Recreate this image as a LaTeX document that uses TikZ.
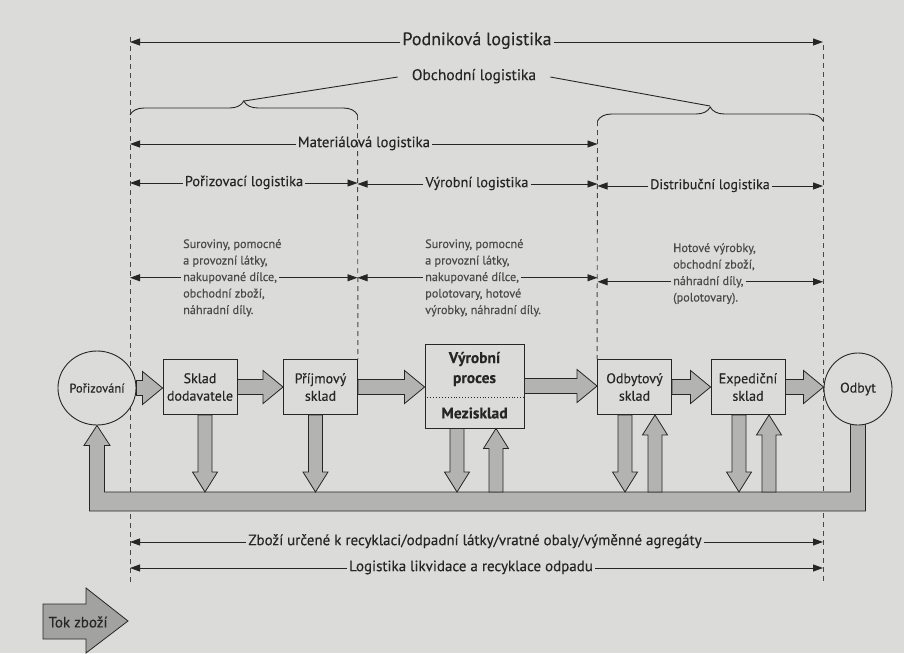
\documentclass[tikz,border=0pt]{standalone}
\usepackage{fontspec}
\setmainfont{PT Sans}[FakeBold=0.25]
\newfontfamily\labelfont{PT Sans}[FakeBold=0.3]
\usetikzlibrary{arrows.meta,calc,decorations.pathreplacing,shapes.geometric}

\definecolor{page}{HTML}{DBDBD9}
\definecolor{ink}{HTML}{262626}
\definecolor{softink}{HTML}{4A4A4A}
\definecolor{flow}{HTML}{B3B3B1}
\definecolor{tokfill}{HTML}{A2A2A0}

\pgfdeclarelayer{paper}
\pgfdeclarelayer{guides}
\pgfdeclarelayer{flows}
\pgfsetlayers{paper,guides,flows,main}

\tikzset{
  guide/.style={draw=ink!85, line width=0.9pt, dash pattern=on 5pt off 4pt},
  span/.style={draw=ink, line width=0.9pt, -{Triangle[length=10pt,width=7pt]}},
  lbl/.style={text=ink, inner xsep=2pt, inner ysep=1pt, text height=1.6ex, text depth=0.35ex},
  note/.style={text=softink, font=\fontsize{12.2}{14}\selectfont, inner xsep=2pt, inner ysep=0pt,
               anchor=base west, text height=1.6ex, text depth=0.3ex},
  store/.style={draw=ink, line width=0.9pt, fill=page, minimum width=74pt, minimum height=55pt,
                inner sep=0pt, align=center, text=ink, font=\labelfont\fontsize{14}{17.5}\selectfont},
  terminal/.style={ellipse, draw=ink, line width=0.9pt, fill=page, inner sep=0pt,
                   text=ink, font=\labelfont\fontsize{12.5}{15}\selectfont},
  boldlbl/.style={text=ink, align=center, inner sep=0pt, font=\bfseries\fontsize{15.5}{20}\selectfont},
  blockarrow/.style={draw=ink, line width=0.8pt, fill=flow, line join=miter},
  bracket/.style={draw=ink, line width=0.9pt, decorate, decoration={brace, amplitude=14pt}},
}

% wide block arrow pointing right, from anchor #1 to anchor #2
\newcommand\flowright[2]{%
  \path[blockarrow] let \p1=(#1), \p2=(#2) in
    (\x1,\y1+7.5pt) -- (\x2-20pt,\y1+7.5pt) -- (\x2-20pt,\y1+16.5pt) -- (\x2,\y1)
    -- (\x2-20pt,\y1-16.5pt) -- (\x2-20pt,\y1-7.5pt) -- (\x1,\y1-7.5pt) -- cycle;}
% block arrow from the lower side of node #1 (shifted by #2) down into the return channel
\newcommand\flowdown[2]{%
  \path[blockarrow] let \p1=($(#1.south)+(#2,0)$), \p2=(chantop) in
    (\x1-7pt,\y1) -- (\x1+7pt,\y1) -- (\x1+7pt,\y2+20pt) -- (\x1+12.5pt,\y2+20pt)
    -- (\x1,\y2) -- (\x1-12.5pt,\y2+20pt) -- (\x1-7pt,\y2+20pt) -- cycle;}
% block arrow from the return channel up into the lower side of node #1 (shifted by #2)
\newcommand\flowup[2]{%
  \path[blockarrow] let \p1=($(#1.south)+(#2,0)$), \p2=(chantop) in
    (\x1-7pt,\y2) -- (\x1-7pt,\y1-20pt) -- (\x1-12.5pt,\y1-20pt) -- (\x1,\y1)
    -- (\x1+12.5pt,\y1-20pt) -- (\x1+7pt,\y1-20pt) -- (\x1+7pt,\y2) -- cycle;}

\begin{document}
\begin{tikzpicture}[x=1pt,y=-1pt]
\begin{pgfonlayer}{paper}
  \fill[page] (0,0) rectangle (904,653);
\end{pgfonlayer}
\useasboundingbox (0,0) rectangle (904,653);

% section boundaries
\coordinate (gL) at (130,0);
\coordinate (gM1) at (357.5,0);
\coordinate (gM2) at (597.5,0);
\coordinate (gR) at (823,0);
\coordinate (chantop) at (0,492);
\coordinate (chanbot) at (0,511);
\coordinate (vpdiv) at (0,397);
\coordinate (bL) at (244,101);
\coordinate (bR) at (710,106);

% ---------- flow of goods ----------
\node[terminal, minimum width=60pt, minimum height=74pt] (por) at (97,388) {Pořizování};
\node[store] (sd) at (200,387) {Sklad\\dodavatele};
\node[store] (ps) at (320.5,387) {Příjmový\\sklad};
\node[store, minimum width=99pt, minimum height=84pt] (vp) at (474.5,386) {};
\node[boldlbl] (vpt) at (474.5,369) {Výrobní\\proces};
\node[boldlbl] (vpb) at (474.5,413) {Mezisklad};
\draw[ink, dotted, line width=0.9pt] (vp.west |- vpdiv) -- (vp.east |- vpdiv);
\node[store] (od) at (634.5,387) {Odbytový\\sklad};
\node[store] (ex) at (748,387) {Expediční\\sklad};
\node[terminal, minimum width=68pt, minimum height=72pt, font=\labelfont\fontsize{14}{16}\selectfont] (odb) at (858,389) {Odbyt};

\begin{pgfonlayer}{flows}
  % return channel from Odbyt back to Pořizování
  \path[blockarrow] let \p1=(por.south), \p2=(odb.south), \p3=(chantop), \p4=(chanbot) in
    (\x2-7.5pt,\y2+4pt) -- (\x2-7.5pt,\y3) -- (\x1+7.5pt,\y3) -- (\x1+7.5pt,\y1-20pt)
    -- (\x1+13pt,\y1-20pt) -- (\x1,\y1) -- (\x1-13pt,\y1-20pt) -- (\x1-7.5pt,\y1-20pt)
    -- (\x1-7.5pt,\y4) -- (\x2+7.5pt,\y4) -- (\x2+7.5pt,\y2+4pt);
  \flowdown{sd}{5}
  \flowdown{ps}{-5}
  \flowdown{vp}{-17.5}
  \flowup{vp}{21.5}
  \flowdown{od}{-9.5}
  \flowup{od}{20.5}
  \flowdown{ex}{-9}
  \flowup{ex}{21}
  \flowright{por.east}{sd.west}
  \flowright{sd.east}{ps.west}
  \flowright{ps.east}{vp.west}
  \flowright{vp.east}{od.west}
  \flowright{od.east}{ex.west}
  \flowright{ex.east}{odb.west}
\end{pgfonlayer}

\begin{pgfonlayer}{guides}
  \draw[guide] (gL |- 0,37) -- (gL |- 0,583);
  \draw[guide] (gR |- 0,45) -- (gR |- 0,583);
  \draw[guide] (gM1 |- 0,115) -- (ps.north east);
  \draw[guide] (gM2 |- 0,121) -- (od.north west);
\end{pgfonlayer}

% ---------- spans at the top ----------
\node[lbl, font=\labelfont\fontsize{18}{21}\selectfont] (podn) at (477,42) {Podniková logistika};
\draw[span] (podn.west) -- (podn.west -| gL);
\draw[span] (podn.east) -- (podn.east -| gR);

\node[lbl, inner xsep=14pt, font=\labelfont\fontsize{15.5}{18}\selectfont] (obch) at (474,77) {Obchodní logistika};
\draw[bracket] (gL |- 0,115) -- (gM1 |- 0,115);
\draw[bracket] (gM2 |- 0,121) -- (gR |- 0,121);
\draw[ink, line width=0.9pt] (obch.west) -- (bL);
\draw[ink, line width=0.9pt] (obch.east) -- (bR);

\node[lbl, font=\labelfont\fontsize{14.8}{17}\selectfont] (mat) at (364,144) {Materiálová logistika};
\draw[span] (mat.west) -- (mat.west -| gL);
\draw[span] (mat.east) -- (mat.east -| gM2);

\node[lbl, font=\labelfont\fontsize{14.4}{17}\selectfont] (pori) at (244,183) {Pořizovací logistika};
\draw[span] (pori.west) -- (pori.west -| gL);
\draw[span] (pori.east) -- (pori.east -| gM1);
\node[lbl, font=\labelfont\fontsize{14.4}{17}\selectfont] (vyr) at (477,184) {Výrobní logistika};
\draw[span] (vyr.west) -- (vyr.west -| gM1);
\draw[span] (vyr.east) -- (vyr.east -| gM2);
\node[lbl, font=\labelfont\fontsize{14}{17}\selectfont] (dist) at (710,186) {Distribuční logistika};
\draw[span] (dist.west) -- (dist.west -| gM2);
\draw[span] (dist.east) -- (dist.east -| gR);

% ---------- goods handled in each section ----------
\node[note] (pa1) at (181,248) {Suroviny, pomocné};
\node[note] (pa2) at (181,264.5) {a provozní látky,};
\node[note] (pa3) at (181,281) {nakupované dílce,};
\node[note] (pa4) at (181,297.5) {obchodní zboží,};
\node[note] (pa5) at (181,314) {náhradní díly.};
\draw[span] (pa3.west) -- (pa3.west -| gL);
\draw[span] (pa3.east) -- (pa3.east -| gM1);

\node[note] (va1) at (423,248) {Suroviny, pomocné};
\node[note] (va2) at (423,264.5) {a provozní látky,};
\node[note] (va3) at (423,281) {nakupované dílce,};
\node[note] (va4) at (423,297.5) {polotovary, hotové};
\node[note] (va5) at (423,314) {výrobky, náhradní díly.};
\draw[span] (va3.west) -- (va3.west -| gM1);
\draw[span] (va3.east) -- (va3.east -| gM2);

\node[note] (da1) at (671,252) {Hotové výrobky,};
\node[note] (da2) at (671,268.5) {obchodní zboží,};
\node[note] (da3) at (671,285) {náhradní díly,};
\node[note] (da4) at (671,301.5) {(polotovary).};
\draw[span] (da3.west) -- (da3.west -| gM2);
\draw[span] (da3.east) -- (da3.east -| gR);

% ---------- spans at the bottom ----------
\node[lbl, font=\labelfont\fontsize{15}{18}\selectfont] (recy) at (475,542)
  {Zboží určené k recyklaci/odpadní látky/vratné obaly/výměnné agregáty};
\draw[span] (recy.west) -- (recy.west -| gL);
\draw[span] (recy.east) -- (recy.east -| gR);
\node[lbl, font=\labelfont\fontsize{15}{18}\selectfont] (likv) at (471,568)
  {Logistika likvidace a recyklace odpadu};
\draw[span] (likv.west) -- (likv.west -| gL);
\draw[span] (likv.east) -- (likv.east -| gR);

% ---------- legend ----------
\filldraw[draw=ink, line width=0.8pt, fill=tokfill, line join=miter]
  (43,604) -- (86,604) -- (86,588) -- (128,621) -- (86,653) -- (86,639) -- (43,639) -- cycle;
\node[text=ink, inner sep=0pt, font=\labelfont\fontsize{15}{18}\selectfont] (tok) at (78,622) {Tok zboží};
\end{tikzpicture}
\end{document}
